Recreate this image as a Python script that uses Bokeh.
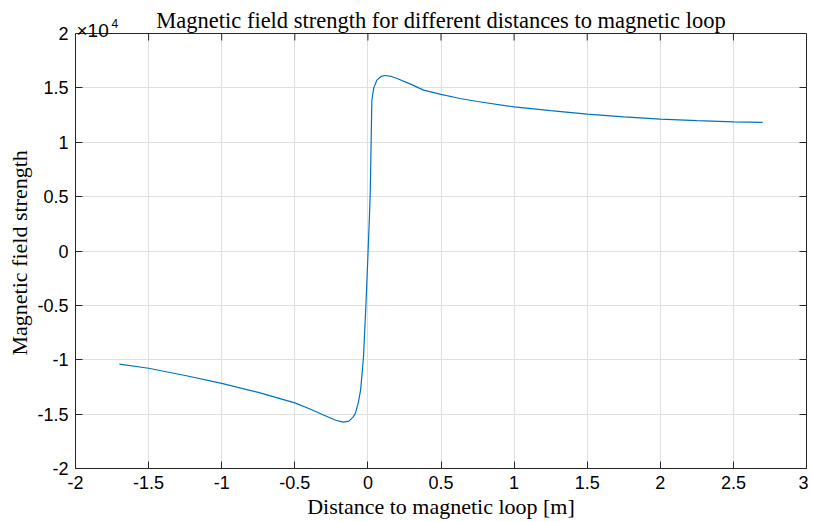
import math
from bokeh.plotting import figure
from bokeh.models import (Range1d, FixedTicker, CustomJSTickFormatter, LinearAxis, Label,
                          BoxAnnotation, Span, Title)
from bokeh.embed import file_html
from bokeh.resources import INLINE

# distance to magnetic loop [m]
distance = [-1.70, -1.50, -1.25, -1.00, -0.75, -0.50, -0.40, -0.30, -0.22, -0.167,
            -0.13, -0.10, -0.085, -0.065, -0.05, -0.04, -0.03, -0.014, 0.000, 0.010,
            0.016, 0.022, 0.027, 0.040, 0.061, 0.090, 0.118, 0.160, 0.200, 0.300,
            0.380, 0.500, 0.630, 0.750, 1.000, 1.250, 1.500, 1.750, 2.000, 2.250,
            2.500, 2.700]
# magnetic field strength
field = [-10400, -10780, -11450, -12180, -13000, -13970, -14500, -15100, -15560, -15740,
         -15650, -15250, -14900, -13900, -12800, -11300, -9700, -5100, -500, 3000,
         5300, 9900, 13860, 15000, 15710, 16050, 16140, 16050, 15860, 15300,
         14790, 14400, 14020, 13750, 13250, 12900, 12580, 12330, 12120, 11980,
         11870, 11820]

x_ticks = [-2, -1.5, -1, -0.5, 0, 0.5, 1, 1.5, 2, 2.5, 3]
y_ticks = [-20000, -15000, -10000, -5000, 0, 5000, 10000, 15000, 20000]

title_text = "Magnetic field strength for different distances to magnetic loop"
xlabel_text = "Distance to magnetic loop [m]"
ylabel_text = "Magnetic field strength"

SERIF = "Liberation Serif"
SANS = "Liberation Sans"
AX = "#262626"

# layout: a title band of TOP_PX above the axes box of BOX_PX height
TOP_PX = 33
BOX_PX = 435
y0, y1 = y_ticks[0], y_ticks[-1]
y_top = y1 + TOP_PX * (y1 - y0) / BOX_PX

p = figure(width=808, height=521, output_backend="svg", toolbar_location=None,
           x_range=Range1d(x_ticks[0], x_ticks[-1]), y_range=Range1d(y0, y_top),
           min_border_left=75, min_border_right=2, min_border_top=0, min_border_bottom=53)
p.outline_line_color = None

p.xgrid.ticker = FixedTicker(ticks=x_ticks)
p.ygrid.ticker = FixedTicker(ticks=y_ticks)
p.xgrid.grid_line_color = "#dfdfdf"
p.ygrid.grid_line_color = "#dfdfdf"

p.line(distance, field, line_color="#0072BD", line_width=1.2)

xfmt = CustomJSTickFormatter(code="return String(tick);")
yfmt = CustomJSTickFormatter(code="return String(Math.round(tick/1000)/10);")

def style(ax, labels=True):
    ax.major_tick_in = 7
    ax.major_tick_out = 0
    ax.minor_tick_line_color = None
    ax.axis_line_color = AX
    ax.major_tick_line_color = AX
    ax.major_label_text_font = SANS
    ax.major_label_text_font_size = "18px"
    ax.major_label_text_color = "black" if labels else None
    ax.axis_label_text_font = SERIF
    ax.axis_label_text_font_style = "normal"
    ax.axis_label_text_font_size = "22px"
    ax.axis_label_text_color = "black"

xa = p.xaxis[0]
xa.ticker = FixedTicker(ticks=x_ticks)
xa.formatter = xfmt
xa.axis_label = xlabel_text
style(xa)
xa.major_label_standoff = 7
xa.axis_label_standoff = 2

ya = p.yaxis[0]
ya.ticker = FixedTicker(ticks=y_ticks)
ya.formatter = yfmt
ya.bounds = (y0, y1)
style(ya)
ya.major_label_standoff = 7

# y label as a side title so it can be centred on the box rather than the band
p.add_layout(Title(text=ylabel_text, align="left", offset=113, standoff=5,
                   text_font=SERIF, text_font_size="22px", text_font_style="normal",
                   text_color="black"), "left")

right = LinearAxis(ticker=FixedTicker(ticks=y_ticks), formatter=yfmt, bounds=(y0, y1))
style(right, labels=False)
right.major_label_text_font_size = "0px"
right.major_label_standoff = 0
p.add_layout(right, "right")

# blank title band above the axes box
p.add_layout(BoxAnnotation(bottom=y1, fill_color="white", fill_alpha=1.0, line_color=None))
# top edge of the box with inward ticks
p.add_layout(Span(location=y1, dimension="width", line_color=AX, line_width=1))
p.ray(x=x_ticks, y=[y1] * len(x_ticks), length=7, length_units="screen",
      angle=-math.pi / 2, line_color=AX, line_width=1)

# title
p.add_layout(Label(x=(x_ticks[0] + x_ticks[-1]) / 2, y=y1, y_offset=13, text=title_text,
                   text_font=SERIF, text_font_size="22.5px", text_color="black",
                   text_align="center", text_baseline="alphabetic"))
# exponent
p.add_layout(Label(x=x_ticks[0], y=y1, x_offset=1, y_offset=3, text="×10",
                   text_font=SANS, text_font_size="19px", text_color="black",
                   text_align="left", text_baseline="alphabetic"))
p.add_layout(Label(x=x_ticks[0], y=y1, x_offset=36, y_offset=10, text="4",
                   text_font=SANS, text_font_size="12px", text_color="black",
                   text_align="left", text_baseline="alphabetic"))

open("out.html", "w").write(file_html(p, INLINE))
